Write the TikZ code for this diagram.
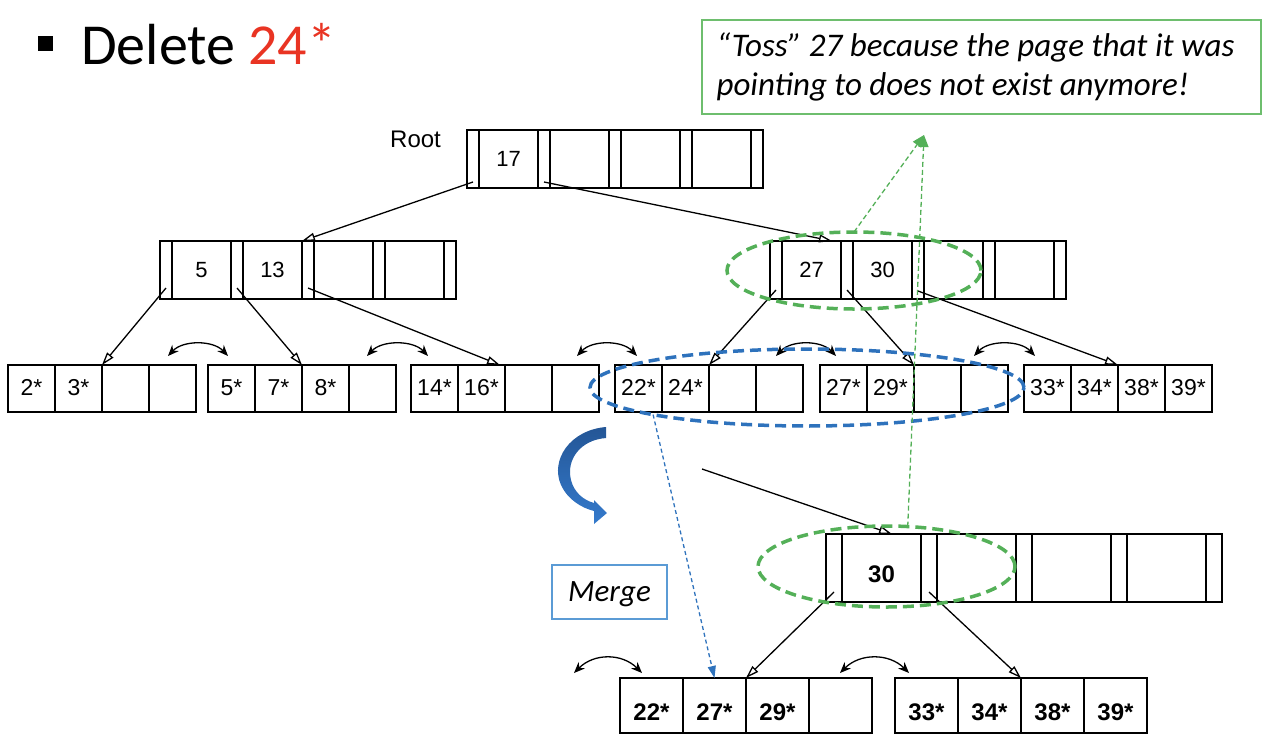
\documentclass[tikz,border=0pt]{standalone}
\usepackage{fontspec}
\usetikzlibrary{positioning,shapes.geometric,arrows.meta,calc}
\newfontfamily\sansf{Liberation Sans}
\newfontfamily\calib{Carlito}
\definecolor{delred}{RGB}{233,52,35}
\definecolor{tossgreen}{RGB}{84,176,88}
\definecolor{callgreen}{RGB}{110,190,110}
\definecolor{mergeblue}{RGB}{46,114,188}
\definecolor{boxblue}{RGB}{91,155,213}
\definecolor{arrowtop}{RGB}{36,86,150}
\definecolor{arrowbot}{RGB}{52,122,204}

\tikzset{
  ptr/.style={draw, line width=1.4pt, outer sep=0pt, inner sep=0pt, minimum width=12pt, minimum height=58pt},
  key/.style={ptr, minimum width=59pt, font=\sansf\fontsize{22}{26}\selectfont},
  rec/.style={draw, line width=1.4pt, outer sep=0pt, inner sep=0pt, minimum width=47pt, minimum height=47pt,
    font=\sansf\fontsize{23}{27}\selectfont, text height=13pt, text depth=0pt},
  tp/.style={line width=1.3pt, -{Triangle[open, length=13pt, width=8pt]}},
  sib/.style={line width=1.3pt, {Stealth[length=11pt, width=9pt]}-{Stealth[length=11pt, width=9pt]}},
  hl/.style={ellipse, draw, line width=3.5pt, dash pattern=on 11pt off 6pt, inner sep=0pt, outer sep=0pt},
  gline/.style={tossgreen, line width=1.3pt, dash pattern=on 5pt off 3pt, -{Triangle[length=12pt, width=10pt]}},
  bline/.style={mergeblue, line width=1.3pt, dash pattern=on 4pt off 3pt, -{Triangle[length=12pt, width=8pt]}}
}

% inner node: name, top left corner, two keys
\newcommand{\bpnode}[4]{%
  \node[ptr, anchor=north west] (#1p0) at #2 {};
  \node[key, right=0pt of #1p0] (#1k1) {#3};
  \node[ptr, right=0pt of #1k1] (#1p1) {};
  \node[key, right=0pt of #1p1] (#1k2) {#4};
  \node[ptr, right=0pt of #1k2] (#1p2) {};
  \node[key, right=0pt of #1p2] (#1k3) {};
  \node[ptr, right=0pt of #1k3] (#1p3) {};
  \node[key, right=0pt of #1p3] (#1k4) {};
  \node[ptr, right=0pt of #1k4] (#1p4) {};
}
% leaf: name, top left corner, four entries
\newcommand{\bpleaf}[6]{%
  \node[rec, anchor=north west] (#1c1) at #2 {#3};
  \node[rec, right=0pt of #1c1] (#1c2) {#4};
  \node[rec, right=0pt of #1c2] (#1c3) {#5};
  \node[rec, right=0pt of #1c3] (#1c4) {#6};
}

\begin{document}
\begin{tikzpicture}[x=1pt,y=-1pt]
\useasboundingbox (0,0) rectangle (1278,750);

% heading
\node[fill, minimum size=15pt, inner sep=0pt] (bullet) at (45.5,43.5) {};
\node[anchor=base west, inner sep=0pt, font=\calib\fontsize{58}{62}\selectfont] (title) at (81,64) {Delete \textcolor{delred}{24*}};

% note
\node[draw=callgreen, line width=1.2pt, minimum width=559pt, minimum height=94pt] (toss) at (981.5,67) {};
\node[anchor=west, inner sep=0pt, align=left, font=\calib\itshape\fontsize{33}{39}\selectfont] (tosstxt) at ([xshift=15pt]toss.west)
  {“Toss” 27 because the page that it was\\pointing to does not exist anymore!};

% tree before
\node[anchor=base west, inner sep=0pt, font=\sansf\fontsize{24}{28}\selectfont] (rootlbl) at (390,147) {Root};
\bpnode{R}{(467,130)}{17}{}
\bpnode{IL}{(160,241)}{5}{13}
\bpnode{IR}{(770,241)}{27}{30}
\bpleaf{La}{(8,365)}{2*}{3*}{}{}
\bpleaf{Lb}{(208,365)}{5*}{7*}{8*}{}
\bpleaf{Lc}{(411,365)}{14*}{16*}{}{}
\bpleaf{Ld}{(615,365)}{22*}{24*}{}{}
\bpleaf{Le}{(820,365)}{27*}{29*}{}{}
\bpleaf{Lf}{(1024,365)}{33*}{34*}{38*}{39*}

\draw[tp] ([yshift=6pt]Rp0.south) -- (ILk2.north east);
\draw[tp] ([yshift=6pt]Rp1.south) -- ([xshift=-9pt]IRk1.north east);
\draw[tp] ([yshift=11pt]ILp0.south) -- (Lac2.north east);
\draw[tp] ([yshift=11pt]ILp1.south) -- (Lbc2.north east);
\draw[tp] ([yshift=11pt]ILp2.south) -- ([xshift=-5pt]Lcc2.north east);
\draw[tp] ([yshift=9pt]IRp0.south) -- (Ldc2.north east);
\draw[tp] ([yshift=9pt]IRp1.south) -- (Lec2.north east);
\draw[tp] ([yshift=8pt]IRp2.south) -- (Lfc2.north east);

\draw[sib] ([xshift=-28pt,yshift=9pt]Lac4.north east) .. controls +(15,-16) and +(-15,-16) .. ([xshift=20pt,yshift=9pt]Lbc1.north west);
\draw[sib] ([xshift=-29pt,yshift=9pt]Lbc4.north east) .. controls +(15,-16) and +(-15,-16) .. ([xshift=17pt,yshift=9pt]Lcc1.north west);
\draw[sib] ([xshift=-22pt,yshift=9pt]Lcc4.north east) .. controls +(15,-16) and +(-15,-16) .. ([xshift=22pt,yshift=9pt]Ldc1.north west);
\draw[sib] ([xshift=-27pt,yshift=9pt]Ldc4.north east) .. controls +(15,-16) and +(-15,-16) .. ([xshift=16pt,yshift=9pt]Lec1.north west);
\draw[sib] ([xshift=-34pt,yshift=9pt]Lec4.north east) .. controls +(15,-16) and +(-15,-16) .. ([xshift=11pt,yshift=9pt]Lfc1.north west);

% merge arrow
\shade[top color=arrowtop, bottom color=arrowbot] (606,427) .. controls (570,430) and (550,460) .. (561,485)
  .. controls (568,500) and (582,508) .. (594,511) -- (594,524) -- (607,513) -- (594,500) -- (594,503)
  .. controls (583,500) and (574,492) .. (571,480) .. controls (566,460) and (580,440) .. (606,438) -- cycle;
\node[draw=boxblue, line width=1.2pt, minimum width=115pt, minimum height=54pt, inner sep=0pt, text depth=0pt,
  font=\calib\itshape\fontsize{31}{37}\selectfont] (merge) at (609.5,592) {Merge};

% tree after
\begin{scope}[ptr/.append style={minimum width=16pt, minimum height=68pt},
  key/.append style={minimum width=79pt, font=\sansf\bfseries\fontsize{24}{28}\selectfont, text height=28pt, text depth=0pt}]
\bpnode{B}{(826,534)}{30}{}
\end{scope}
\begin{scope}[rec/.append style={minimum width=63pt, minimum height=55pt, font=\sansf\bfseries\fontsize{24}{28}\selectfont, text height=29pt}]
\bpleaf{Ma}{(620,678)}{22*}{27*}{29*}{}
\bpleaf{Mb}{(895,678)}{33*}{34*}{38*}{39*}
\end{scope}

\coordinate (oldptr) at (702,469);
\coordinate (oldsib) at (574,673);
\draw[tp] (oldptr) -- ([xshift=-29pt]Bk1.north east);
\draw[tp] ([yshift=10pt]Bp0.south) -- (Mac2.north east);
\draw[tp] ([yshift=10pt]Bp1.south) -- (Mbc2.north east);
\draw[sib] (oldsib) .. controls +(20,-20) and +(-20,-20) .. ([xshift=22pt,yshift=5pt]Mac1.north west);
\draw[sib] ([xshift=-32pt,yshift=5pt]Mac4.north east) .. controls +(20,-20) and +(-20,-20) .. ([xshift=14pt,yshift=5pt]Mbc1.north west);

% highlights
\node[hl, draw=mergeblue, minimum width=434pt, minimum height=77pt] (bov) at (807,387.5) {};
\node[hl, draw=tossgreen, minimum width=254pt, minimum height=77pt] (gtop) at (854,270.5) {};
\node[hl, draw=tossgreen, minimum width=257pt, minimum height=81pt] (gbot) at (886.5,566.5) {};
\coordinate (tossin) at (924,135);
\draw[gline] (gtop.north) -- (tossin);
\draw[gline] (gbot.62) -- (tossin);
\draw[bline] (bov.190) -- (Mac2.north);
\end{tikzpicture}
\end{document}
